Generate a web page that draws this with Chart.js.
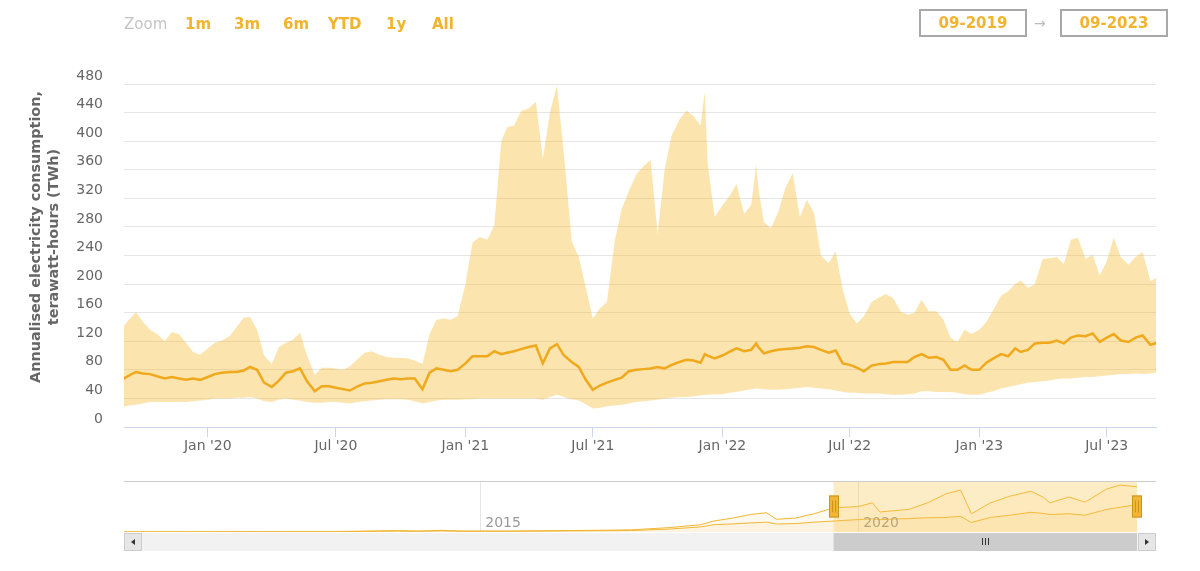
<!DOCTYPE html>
<html>
<head>
<meta charset="utf-8">
<script src="https://cdn.jsdelivr.net/npm/chart.js@4.4.1/dist/chart.umd.min.js"></script>
<style>
  body { margin: 0; background: #fff; font-family: "DejaVu Sans", sans-serif; }
  #wrap { position: relative; width: 1200px; height: 571px; overflow: hidden; }
  #main { position: absolute; left: 0; top: 0; }
  #nav { position: absolute; left: 0; top: 470px; }
  .zoom { position: absolute; top: 14px; line-height: 20px; font-size: 15px; color: #c4c4c4; }
  .btn { position: absolute; top: 14px; line-height: 20px; font-size: 15px; font-weight: bold; color: #f2b32e; }
  .range { position: absolute; top: 9px; width: 108px; height: 28px; box-sizing: border-box;
           border: 2px solid #a8a8a8; text-align: center; line-height: 24px;
           font-size: 15px; font-weight: bold; color: #f2b32e; }
  .arrow { position: absolute; left: 1034px; top: 13px; line-height: 20px; font-size: 14px; color: #bbbbbb; }
  #ytitle { position: absolute; left: -116px; top: 219px; width: 320px; height: 36px;
            transform: rotate(-90deg); text-align: center; font-size: 14.4px; line-height: 18px;
            font-weight: bold; color: #666666; white-space: nowrap; }
</style>
</head>
<body>
<div id="wrap">
  <canvas id="main" width="1200" height="470"></canvas>
  <canvas id="nav" width="1200" height="101"></canvas>

  <span class="zoom" style="left:124px">Zoom</span>
  <span class="btn" style="left:185px">1m</span>
  <span class="btn" style="left:234px">3m</span>
  <span class="btn" style="left:283px">6m</span>
  <span class="btn" style="left:328px">YTD</span>
  <span class="btn" style="left:386px">1y</span>
  <span class="btn" style="left:432px">All</span>

  <div class="range" style="left:919px">09-2019</div>
  <span class="arrow">&rarr;</span>
  <div class="range" style="left:1060px">09-2023</div>

  <div id="ytitle">Annualised electricity consumption,<br>terawatt-hours (TWh)</div>
</div>

<script>
// visible window and axis ticks
const viewStart = '2019-09-04';
const viewEnd = '2023-09-09';
const xTickDates = ['2020-01-01', '2020-07-01', '2021-01-01', '2021-07-01', '2022-01-01', '2022-07-01', '2023-01-01', '2023-07-01'];
const xTickLabels = ["Jan '20", "Jul '20", "Jan '21", "Jul '21", "Jan '22", "Jul '22", "Jan '23", "Jul '23"];
const yTicks = [0, 40, 80, 120, 160, 200, 240, 280, 320, 360, 400, 440, 480];

// TWh
const dates = [
  '2019-09-01','2019-09-11','2019-09-21','2019-10-01','2019-10-11','2019-10-21','2019-11-01','2019-11-11','2019-11-21','2019-12-01','2019-12-11','2019-12-21',
  '2020-01-01','2020-01-11','2020-01-21','2020-02-01','2020-02-11','2020-02-21','2020-03-01','2020-03-11','2020-03-21','2020-04-01','2020-04-11','2020-04-21',
  '2020-05-01','2020-05-11','2020-05-21','2020-06-01','2020-06-11','2020-06-21','2020-07-01','2020-07-11','2020-07-21','2020-08-01','2020-08-11','2020-08-21',
  '2020-09-01','2020-09-11','2020-09-21','2020-10-01','2020-10-11','2020-10-21','2020-11-01','2020-11-11','2020-11-21','2020-12-01','2020-12-11','2020-12-21',
  '2021-01-01','2021-01-11','2021-01-21','2021-02-01','2021-02-11','2021-02-21','2021-03-01','2021-03-11','2021-03-21','2021-04-01','2021-04-11','2021-04-21',
  '2021-05-01','2021-05-11','2021-05-21','2021-06-01','2021-06-11','2021-06-21','2021-07-01','2021-07-11','2021-07-21','2021-08-01','2021-08-11','2021-08-21',
  '2021-09-01','2021-09-11','2021-09-21','2021-10-01','2021-10-11','2021-10-21','2021-11-01','2021-11-11','2021-11-21','2021-12-01','2021-12-07','2021-12-11','2021-12-21',
  '2022-01-01','2022-01-11','2022-01-21','2022-02-01','2022-02-11','2022-02-18','2022-02-21','2022-03-01','2022-03-11','2022-03-21','2022-04-01','2022-04-11','2022-04-21',
  '2022-05-01','2022-05-11','2022-05-21','2022-06-01','2022-06-11','2022-06-21','2022-07-01','2022-07-11','2022-07-21','2022-08-01','2022-08-11','2022-08-21',
  '2022-09-01','2022-09-11','2022-09-21','2022-10-01','2022-10-11','2022-10-21','2022-11-01','2022-11-11','2022-11-21','2022-12-01','2022-12-11','2022-12-21',
  '2023-01-01','2023-01-11','2023-01-21','2023-02-01','2023-02-11','2023-02-21','2023-03-01','2023-03-11','2023-03-21','2023-04-01','2023-04-11','2023-04-21',
  '2023-05-01','2023-05-11','2023-05-21','2023-06-01','2023-06-11','2023-06-21','2023-07-01','2023-07-11','2023-07-21','2023-08-01','2023-08-11','2023-08-21',
  '2023-09-01','2023-09-11'
];
const upperBound = [
  138,150,161,147,136,130,120,133,130,118,105,101,
  110,118,121,127,140,153,154,136,100,88,112,118,122,132,100,73,83,83,82,80,85,95,104,106,101,98,97,97,96,93,88,130,150,152,150,155,
  200,258,266,262,282,400,419,422,442,446,455,375,440,478,380,260,238,195,152,166,175,260,305,330,354,365,374,270,360,408,430,443,435,422,469,370,294,
  310,323,340,298,311,367,335,287,278,300,336,355,294,318,300,240,229,246,192,158,145,155,175,181,186,180,162,157,160,178,162,162,150,125,119,136,130,
  136,147,164,184,190,200,205,195,200,235,236,238,228,262,265,235,241,212,232,265,238,227,238,245,204,210
];
const estimate = [
  66,72,77,75,74,71,68,70,68,66,68,66,
  70,74,76,77,77,79,84,80,62,56,65,76,78,82,64,50,57,57,55,53,51,57,61,62,64,66,68,67,68,68,53,76,82,80,78,80,
  89,99,99,99,106,102,104,106,109,112,114,89,110,116,100,91,84,66,52,58,62,66,69,78,80,81,82,84,82,87,91,94,93,90,102,100,96,
  100,105,110,106,108,117,112,103,106,108,109,110,111,113,112,108,104,107,89,87,83,78,86,88,89,91,91,91,98,102,97,98,94,80,80,86,80,
  80,90,96,102,99,110,105,108,117,118,118,121,117,125,128,127,131,119,125,130,121,119,125,128,115,118
];
const lowerBound = [
  28,30,31,33,35,35,35,35,35,35,36,37,
  38,40,40,40,41,41,42,40,36,35,38,40,38,37,35,34,34,35,35,34,33,35,36,37,38,39,39,39,38,36,33,35,37,38,38,38,
  39,39,40,40,40,40,40,40,40,40,40,38,42,45,42,39,37,32,26,27,29,30,31,33,35,36,37,38,40,41,42,42,43,44,45,45,46,
  46,48,49,51,53,54,54,53,52,52,53,54,55,56,55,54,53,51,49,48,48,47,47,47,46,45,45,46,47,50,50,49,49,49,48,46,45,
  45,48,50,54,56,58,60,62,63,64,65,67,68,68,69,70,70,71,72,73,74,74,75,74,75,76
];

// navigator (whole history)
const navStart = '2010-04-16';
const navTickDates = ['2015-01-01', '2020-01-01'];
const navTickLabels = ['2015', '2020'];
const navDates = [
  '2010-04-16','2011-01-01','2012-01-01','2013-01-01','2013-09-01','2013-12-01','2014-03-01','2014-07-01','2014-10-01',
  '2015-06-01','2016-03-01','2016-09-01','2017-01-01','2017-07-01','2017-12-01','2018-02-01','2018-05-01','2018-08-01',
  '2018-10-15','2018-12-01','2019-03-01','2019-06-01','2019-09-01','2020-01-01','2020-03-10','2020-04-15','2020-09-01',
  '2020-12-01','2021-03-01','2021-05-10','2021-07-01','2021-10-01','2022-01-01','2022-04-15','2022-06-15','2022-07-15',
  '2022-10-15','2023-01-01','2023-04-15','2023-06-20','2023-09-09'
];
const navEstimate = [0.3,0.5,0.8,1,3,4,2.5,4.5,2.5, 2.5,4,5,6,12,20,30,38,48, 53,35,38,50,66,70,80,55,62, 80,105,115,50,80,98,112,95,80, 96,82,118,129,124];
const navLower = [0.2,0.3,0.5,0.7,2,2.5,1.8,3,2, 2,3,3.5,4,8,14,20,22,25, 27,22,23,27,30,34,36,34,37, 39,40,43,26,40,46,54,51,48, 50,46,62,68,75];

const orange = '#f0a91c';
const bandColor = 'rgba(248,180,30,0.36)';
const font = { family: 'DejaVu Sans', size: 14 };

const ts = dates.map(d => Date.parse(d));
const pts = arr => arr.map((v, i) => ({ x: ts[i], y: v }));
const navTs = navDates.map(d => Date.parse(d));
const navPts = arr => arr.map((v, i) => ({ x: navTs[i], y: v }));

new Chart(document.getElementById('main'), {
  type: 'line',
  data: {
    datasets: [
      { label: 'Lower bound', data: pts(lowerBound), borderColor: 'transparent', borderWidth: 0, pointRadius: 0, fill: false, order: 3 },
      { label: 'Upper bound', data: pts(upperBound), borderColor: 'transparent', borderWidth: 0, pointRadius: 0, fill: '-1', backgroundColor: bandColor, order: 2 },
      { label: 'Estimate', data: pts(estimate), borderColor: orange, borderWidth: 2.5, pointRadius: 0, fill: false, order: 1 }
    ]
  },
  options: {
    responsive: false,
    animation: false,
    events: [],
    layout: { padding: { top: 80, right: 44, left: 0, bottom: 0 } },
    plugins: { legend: { display: false }, tooltip: { enabled: false } },
    scales: {
      x: {
        type: 'linear',
        min: Date.parse(viewStart),
        max: Date.parse(viewEnd),
        afterBuildTicks: s => { s.ticks = xTickDates.map(d => ({ value: Date.parse(d) })); },
        afterFit: s => { s.height = 43; },
        ticks: { autoSkip: false, maxRotation: 0, padding: 1, color: '#666666', font: font, callback: (v, i) => xTickLabels[i] },
        grid: { drawOnChartArea: false, drawTicks: true, tickLength: 10, color: '#ccd6eb' },
        border: { color: '#ccd6eb' }
      },
      y: {
        min: 0,
        max: 485.6,
        afterBuildTicks: s => { s.ticks = yTicks.map(v => ({ value: v })); },
        afterFit: s => { s.width = 124; },
        ticks: { padding: 21, labelOffset: -8, color: '#666666', font: font },
        grid: { color: '#e6e6e6', drawTicks: false },
        border: { display: false }
      }
    }
  }
});

// mask, handles, year labels and scrollbar of the navigator
const navOverlay = {
  id: 'navOverlay',
  afterDraw(chart) {
    const { ctx, chartArea: area, scales: { x } } = chart;
    const a = x.getPixelForValue(Date.parse(viewStart));
    const b = x.getPixelForValue(Date.parse(viewEnd));
    const trackRight = chart.width - 44;
    ctx.save();

    // year labels sit inside the navigator, right of their grid line
    ctx.font = '14px "DejaVu Sans"';
    ctx.fillStyle = '#999999';
    ctx.textBaseline = 'middle';
    x.ticks.forEach((t, i) => {
      ctx.fillText(navTickLabels[i], x.getPixelForValue(t.value) + 5, area.bottom - 9);
    });

    ctx.fillStyle = 'rgba(250,196,70,0.3)';
    ctx.fillRect(a, area.top, b - a, area.bottom - area.top);

    ctx.strokeStyle = '#cccccc';
    ctx.lineWidth = 1;
    ctx.beginPath();
    ctx.moveTo(area.left, area.top + 0.5);
    ctx.lineTo(trackRight, area.top + 0.5);
    ctx.stroke();

    // scrollbar
    const sy = area.bottom + 1, sh = 18, bw = 18;
    ctx.fillStyle = '#f2f2f2';
    ctx.fillRect(area.left, sy, trackRight - area.left, sh);
    ctx.fillStyle = '#cccccc';
    ctx.fillRect(a, sy, b - a, sh);
    ctx.strokeStyle = '#333333';
    const gx = Math.round((a + b) / 2);
    for (const dx of [-3, 0, 3]) {
      ctx.beginPath();
      ctx.moveTo(gx + dx + 0.5, sy + 5);
      ctx.lineTo(gx + dx + 0.5, sy + 12);
      ctx.stroke();
    }
    for (const [bx, dir] of [[area.left, -1], [trackRight - bw, 1]]) {
      ctx.fillStyle = '#e6e6e6';
      ctx.fillRect(bx, sy, bw, sh);
      ctx.strokeStyle = '#cccccc';
      ctx.strokeRect(bx + 0.5, sy + 0.5, bw - 1, sh - 1);
      const cx = bx + bw / 2, cy = sy + sh / 2;
      ctx.fillStyle = '#333333';
      ctx.beginPath();
      ctx.moveTo(cx + 2 * dir, cy);
      ctx.lineTo(cx - 2 * dir, cy - 3);
      ctx.lineTo(cx - 2 * dir, cy + 3);
      ctx.closePath();
      ctx.fill();
    }

    // handles
    const hy = (area.top + area.bottom) / 2 - 11;
    for (const p of [a, b]) {
      const hx = Math.round(p) - 5;
      ctx.fillStyle = '#f4b530';
      ctx.fillRect(hx, hy, 10, 22);
      ctx.strokeStyle = '#c9941f';
      ctx.strokeRect(hx + 0.5, hy + 0.5, 9, 21);
      ctx.beginPath();
      ctx.moveTo(hx + 3.5, hy + 5);
      ctx.lineTo(hx + 3.5, hy + 17);
      ctx.moveTo(hx + 6.5, hy + 5);
      ctx.lineTo(hx + 6.5, hy + 17);
      ctx.stroke();
    }
    ctx.restore();
  }
};

new Chart(document.getElementById('nav'), {
  type: 'line',
  data: {
    datasets: [
      { data: navPts(navEstimate), borderColor: '#f2b633', borderWidth: 1, pointRadius: 0, fill: 'origin', backgroundColor: 'rgba(247,183,49,0.08)' },
      { data: navPts(navLower), borderColor: '#f2b633', borderWidth: 1, pointRadius: 0, fill: 'origin', backgroundColor: 'rgba(247,183,49,0.08)' }
    ]
  },
  options: {
    responsive: false,
    animation: false,
    events: [],
    layout: { padding: { top: 11, left: 124, right: 63, bottom: 0 } },
    plugins: { legend: { display: false }, tooltip: { enabled: false } },
    scales: {
      x: {
        type: 'linear',
        min: Date.parse(navStart),
        max: Date.parse(viewEnd),
        afterBuildTicks: s => { s.ticks = navTickDates.map(d => ({ value: Date.parse(d) })); },
        afterFit: s => { s.height = 39; },
        ticks: { display: false },
        grid: { color: '#e6e6e6', drawTicks: false },
        border: { display: false }
      },
      y: { display: false, min: 0, max: 140 }
    }
  },
  plugins: [navOverlay]
});
</script>
</body>
</html>
